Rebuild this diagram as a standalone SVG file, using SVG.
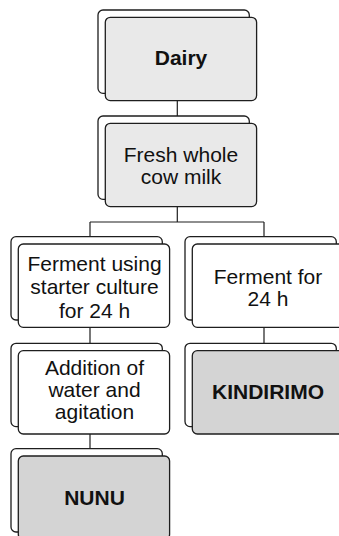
<svg xmlns="http://www.w3.org/2000/svg" width="339" height="536" viewBox="0 0 339 536">
<style>
.card{stroke:#1e1e1e;stroke-width:1.3}
.back{fill:#ffffff}
.lt{fill:#e9e9e9}
.dk{fill:#d4d4d4}
.wh{fill:#ffffff}
.t{font-family:"Liberation Sans",Arial,sans-serif;font-size:21px;fill:#111;text-anchor:middle}
.b{font-weight:bold}
.conn{stroke:#1e1e1e;stroke-width:1.2;fill:none}
</style>
<rect width="339" height="536" fill="#ffffff"/>
<g id="connectors">
<path class="conn" d="M177.3,100.7V116"/>
<path class="conn" d="M177.3,206.7V222M90,222H264M90,222V236.7M264,222V236.7"/>
<path class="conn" d="M90,327.3V343.3M264,327.3V343.3"/>
<path class="conn" d="M90,434V448.7"/>
</g>
<g id="dairy">
<rect class="card back" x="98" y="10" width="151.3" height="83.3" rx="5"/>
<rect class="card lt" x="105.3" y="17.3" width="151.3" height="83.3" rx="5"/>
<text class="t b" x="181" y="65">Dairy</text>
</g>
<g id="fresh">
<rect class="card back" x="98" y="116" width="151.3" height="83.3" rx="5"/>
<rect class="card lt" x="105.3" y="123.3" width="151.3" height="83.3" rx="5"/>
<text class="t" x="181" y="161.7">Fresh whole</text>
<text class="t" x="181" y="184">cow milk</text>
</g>
<g id="ferment-starter">
<rect class="card back" x="11" y="236.7" width="151.3" height="83.3" rx="5"/>
<rect class="card wh" x="18.3" y="244" width="151.3" height="83.3" rx="5"/>
<text class="t" x="94.5" y="271">Ferment using</text>
<text class="t" x="94.5" y="294.3">starter culture</text>
<text class="t" x="94.5" y="317.6">for 24 h</text>
</g>
<g id="ferment-24">
<rect class="card back" x="185" y="236.7" width="151.3" height="83.3" rx="5"/>
<rect class="card wh" x="192.3" y="244" width="151.3" height="83.3" rx="5"/>
<text class="t" x="268" y="283.5">Ferment for</text>
<text class="t" x="268" y="306">24 h</text>
</g>
<g id="addition">
<rect class="card back" x="11" y="343.3" width="151.3" height="83.3" rx="5"/>
<rect class="card wh" x="18.3" y="350.7" width="151.3" height="83.3" rx="5"/>
<text class="t" x="94.5" y="374.8">Addition of</text>
<text class="t" x="94.5" y="397.2">water and</text>
<text class="t" x="94.5" y="419.4">agitation</text>
</g>
<g id="kindirimo">
<rect class="card back" x="185" y="343.3" width="151.3" height="83.3" rx="5"/>
<rect class="card dk" x="192.3" y="350.7" width="151.3" height="83.3" rx="5"/>
<text class="t b" x="268" y="398.5">KINDIRIMO</text>
</g>
<g id="nunu">
<rect class="card back" x="11" y="448.7" width="151.3" height="83.3" rx="5"/>
<rect class="card dk" x="18.3" y="456" width="151.3" height="83.3" rx="5"/>
<text class="t b" x="94.5" y="505">NUNU</text>
</g>
</svg>
